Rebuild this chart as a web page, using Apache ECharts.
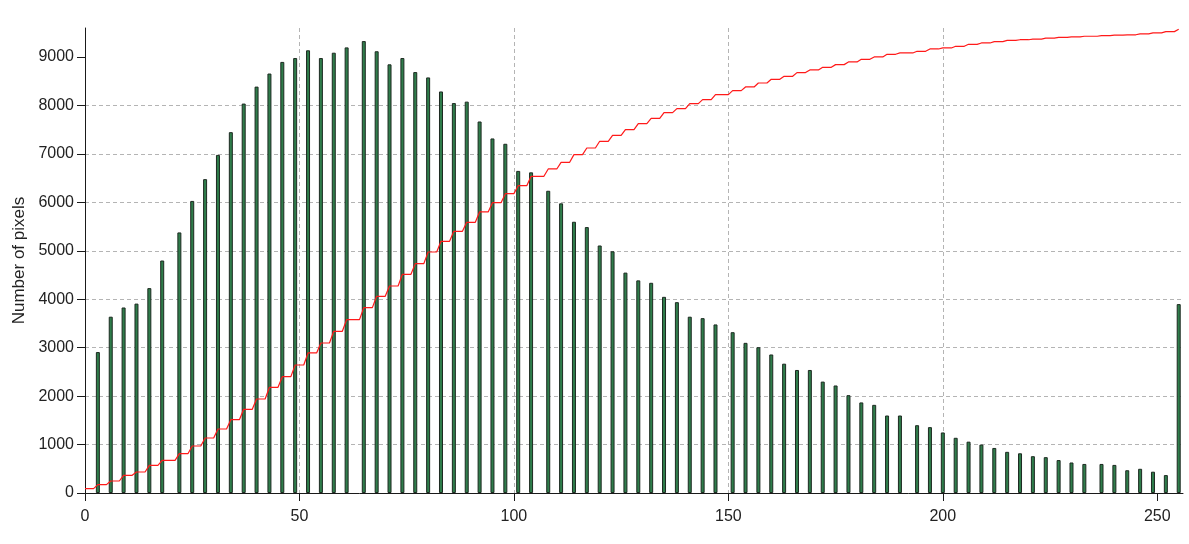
<!DOCTYPE html>
<html>
<head>
<meta charset="utf-8">
<script src="https://cdn.jsdelivr.net/npm/echarts@6/dist/echarts.min.js"></script>
<style>
html,body{margin:0;padding:0;background:#fff;}
#chart{width:1189px;height:544px;}
</style>
</head>
<body>
<div id="chart"></div>
<script>
// Histogram bins (grey level) that hold pixels
const bins = [3,6,9,12,15,18,22,25,28,31,34,37,40,43,46,49,52,55,58,61,65,68,
  71,74,77,80,83,86,89,92,95,98,101,104,108,111,114,117,120,123,126,129,132,135,
  138,141,144,147,151,154,157,160,163,166,169,172,175,178,181,184,187,190,194,197,200,203,
  206,209,212,215,218,221,224,227,230,233,237,240,243,246,249,252,255];
// Number of pixels in each bin
const counts = [2910,3640,3830,3910,4230,4800,5380,6030,6480,6980,7450,8040,8390,8660,8900,8980,9140,8980,9090,9200,9330,9120,
  8850,8980,8690,8580,8290,8050,8080,7670,7320,7210,6650,6620,6240,5980,5600,5490,5110,4990,4550,4390,4340,4050,
  3940,3640,3610,3480,3320,3100,3010,2860,2670,2540,2540,2300,2220,2020,1870,1820,1600,1600,1400,1360,1250,1140,
  1060,1000,930,850,820,760,740,680,630,600,600,580,470,500,440,370,3900];
// Cumulative curve level (in axis units) read after each bin, plus its starting level
const cumStart = 90;
const cumLevels = [172,248,365,434,571,674,812,970,1136,1321,1514,1727,1941,2182,2402,2643,2891,3097,3338,3579,3827,4061,
  4274,4515,4735,4976,5196,5403,5589,5802,5994,6180,6345,6538,6690,6827,6985,7123,7261,7385,7502,7626,7736,7853,
  7935,8039,8121,8225,8307,8383,8465,8541,8603,8679,8734,8789,8844,8899,8954,9002,9057,9085,9119,9167,9188,9222,
  9263,9291,9319,9346,9358,9370,9390,9405,9418,9430,9443,9452,9460,9478,9498,9525,9573];
// Tick labels
const xTicks = [0,50,100,150,200,250];
const yTicks = [0,1000,2000,3000,4000,5000,6000,7000,8000,9000];
const yTitle = 'Number of pixels';

const barData = bins.map((b, i) => [b, counts[i]]);
const cumData = [[0, cumStart]];
let prev = cumStart;
bins.forEach((b, i) => {
  cumData.push([b - 1, prev]);
  cumData.push([b, cumLevels[i]]);
  prev = cumLevels[i];
});

const FONT = "'Liberation Sans',Arial,sans-serif";
const gridLine = {show: true, showMinLine: false, showMaxLine: false,
  lineStyle: {color: '#b4b4b4', type: [4, 3], width: 1}};
const plain = v => String(v);

const chart = echarts.init(document.getElementById('chart'), null, {renderer: 'canvas'});
chart.setOption({
  animation: false,
  backgroundColor: '#ffffff',
  grid: {left: 85, right: 6, top: 28, bottom: 51, containLabel: false, outerBoundsMode: 'none'},
  xAxis: {
    type: 'value', min: 0, max: 256, interval: 50,
    axisLine: {show: true, lineStyle: {color: '#1a1a1a', width: 1}},
    axisTick: {show: true, length: 8, customValues: xTicks, lineStyle: {color: '#1a1a1a'}},
    axisLabel: {customValues: xTicks, formatter: plain, margin: 16, color: '#222', fontSize: 16, fontFamily: FONT},
    splitLine: gridLine
  },
  yAxis: {
    type: 'value', min: 0, max: 9600, interval: 1000,
    name: yTitle, nameLocation: 'middle', nameGap: 53, nameRotate: 90,
    nameTextStyle: {color: '#222', fontSize: 17, fontFamily: FONT},
    axisLine: {show: true, lineStyle: {color: '#1a1a1a', width: 1}},
    axisTick: {show: true, length: 8, customValues: yTicks, lineStyle: {color: '#1a1a1a'}},
    axisLabel: {customValues: yTicks, formatter: plain, margin: 11, color: '#222', fontSize: 16, fontFamily: FONT},
    splitLine: gridLine
  },
  series: [
    {
      type: 'bar', data: barData, barWidth: 4, clip: false, z: 2,
      itemStyle: {color: '#2f7d4b', borderColor: '#1d2a21', borderWidth: 1}
    },
    {
      type: 'line', data: cumData, symbol: 'none', z: 3, clip: false,
      lineStyle: {color: '#ff1a1a', width: 1.2}
    }
  ]
});
</script>
</body>
</html>
